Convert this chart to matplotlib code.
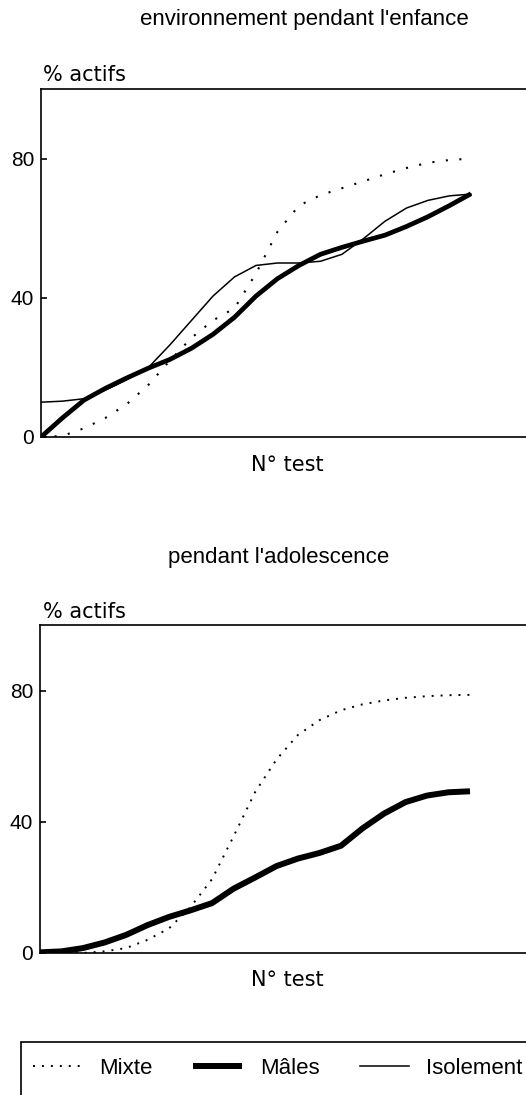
import matplotlib
matplotlib.use("Agg")
import matplotlib.pyplot as plt
from matplotlib.patches import Rectangle

plt.rcParams['font.family'] = ['Liberation Sans', 'DejaVu Sans']

# test number (arbitrary units, curves span 0..10)
tests = [0, 0.5, 1, 1.5, 2, 2.5, 3, 3.5, 4, 4.5, 5, 5.5, 6, 6.5, 7, 7.5, 8, 8.5, 9, 9.5, 10]

# enfance
enf_mixte = [0, 0.3, 2.5, 5.5, 9.5, 15, 22, 28.5, 33.5, 37, 47, 59, 66.5, 69.5, 71.5, 73.5, 75.5, 77.3, 78.8, 79.6, 80]
enf_males = [0, 5.5, 10.6, 14, 17, 19.8, 22.3, 25.5, 29.5, 34.4, 40.5, 45.5, 49.3, 52.5, 54.5, 56.3, 58, 60.5, 63.3, 66.5, 69.9]
enf_isol = [10, 10.3, 11, 13.5, 16.5, 20, 26.5, 33.5, 40.5, 46, 49.3, 50, 50, 50.5, 52.5, 57, 62, 65.8, 68, 69.3, 69.8]

# adolescence
ado_mixte = [0, 0, 0, 0.5, 1.5, 4, 7.5, 14, 22.5, 35.5, 49, 59, 66.5, 71, 74, 75.8, 77, 77.8, 78.3, 78.6, 78.7]
ado_males = [0.2, 0.5, 1.5, 3.2, 5.5, 8.5, 11, 13, 15.2, 19.6, 23, 26.5, 28.8, 30.5, 32.7, 38, 42.5, 46, 48, 49, 49.3]

yticks = [0, 40, 80]

W, H = 526, 1095
fig = plt.figure(figsize=(W / 100, H / 100), dpi=100)


def make_axes(left_px, top_px, bottom_px):
    ax = fig.add_axes([left_px / W, 1 - bottom_px / H, (560 - left_px) / W, (bottom_px - top_px) / H])
    ax.set_xlim(0, (560 - left_px) / 43.0)
    ax.set_ylim(0, 100)
    ax.set_yticks(yticks)
    ax.set_xticks([])
    ax.tick_params(axis='y', direction='in', length=4, width=1.2, pad=5, labelsize=15)
    ax.spines['right'].set_visible(False)
    for s in ('left', 'top', 'bottom'):
        ax.spines[s].set_linewidth(1.2)
    return ax


ax1 = make_axes(41, 89, 437)
ax1.plot(tests, enf_mixte, color='black', lw=1.5, linestyle=(0, (1, 5.5)))
ax1.plot(tests, enf_males, color='black', lw=3.4, solid_capstyle='butt')
ax1.plot(tests, enf_isol, color='black', lw=1.1)

ax2 = make_axes(40, 625, 953)
l_mixte, = ax2.plot(tests, ado_mixte, color='black', lw=1.4, linestyle=(0, (1, 3.6)))
l_males, = ax2.plot(tests, ado_males, color='black', lw=4.3, solid_capstyle='butt')
l_isol = plt.Line2D([], [], color='black', lw=1.1)

# titles and labels
fig.text(304 / W, 1 - 20 / H, "environnement pendant l'enfance", ha='center', va='center', fontsize=16)
fig.text(279 / W, 1 - 558 / H, "pendant l'adolescence", ha='center', va='center', fontsize=16)
for y in (75, 612):
    fig.text(43 / W, 1 - y / H, "% actifs", ha='left', va='center', fontsize=15, family='DejaVu Sans')
for y in (465, 980):
    fig.text(287 / W, 1 - y / H, "N° test", ha='center', va='center', fontsize=15, family='DejaVu Sans')

# legend box runs off the right and bottom edges, as in the scan
fig.patches.append(Rectangle((21 / W, -0.05), 0.98, 0.05 + 1 - 1042 / H, transform=fig.transFigure,
                             fill=False, edgecolor='black', linewidth=1.2))
leg = fig.legend([l_mixte, l_males, l_isol], ["Mixte", "Mâles", "Isolement"],
                 loc='upper left', bbox_to_anchor=(17 / W, 1 - 1042 / H), ncol=3,
                 fontsize=16, frameon=False, borderpad=0.7,
                 handlelength=2.2, handletextpad=0.8, columnspacing=1.82,
                 borderaxespad=0)

fig.savefig("out.png", dpi=100)
